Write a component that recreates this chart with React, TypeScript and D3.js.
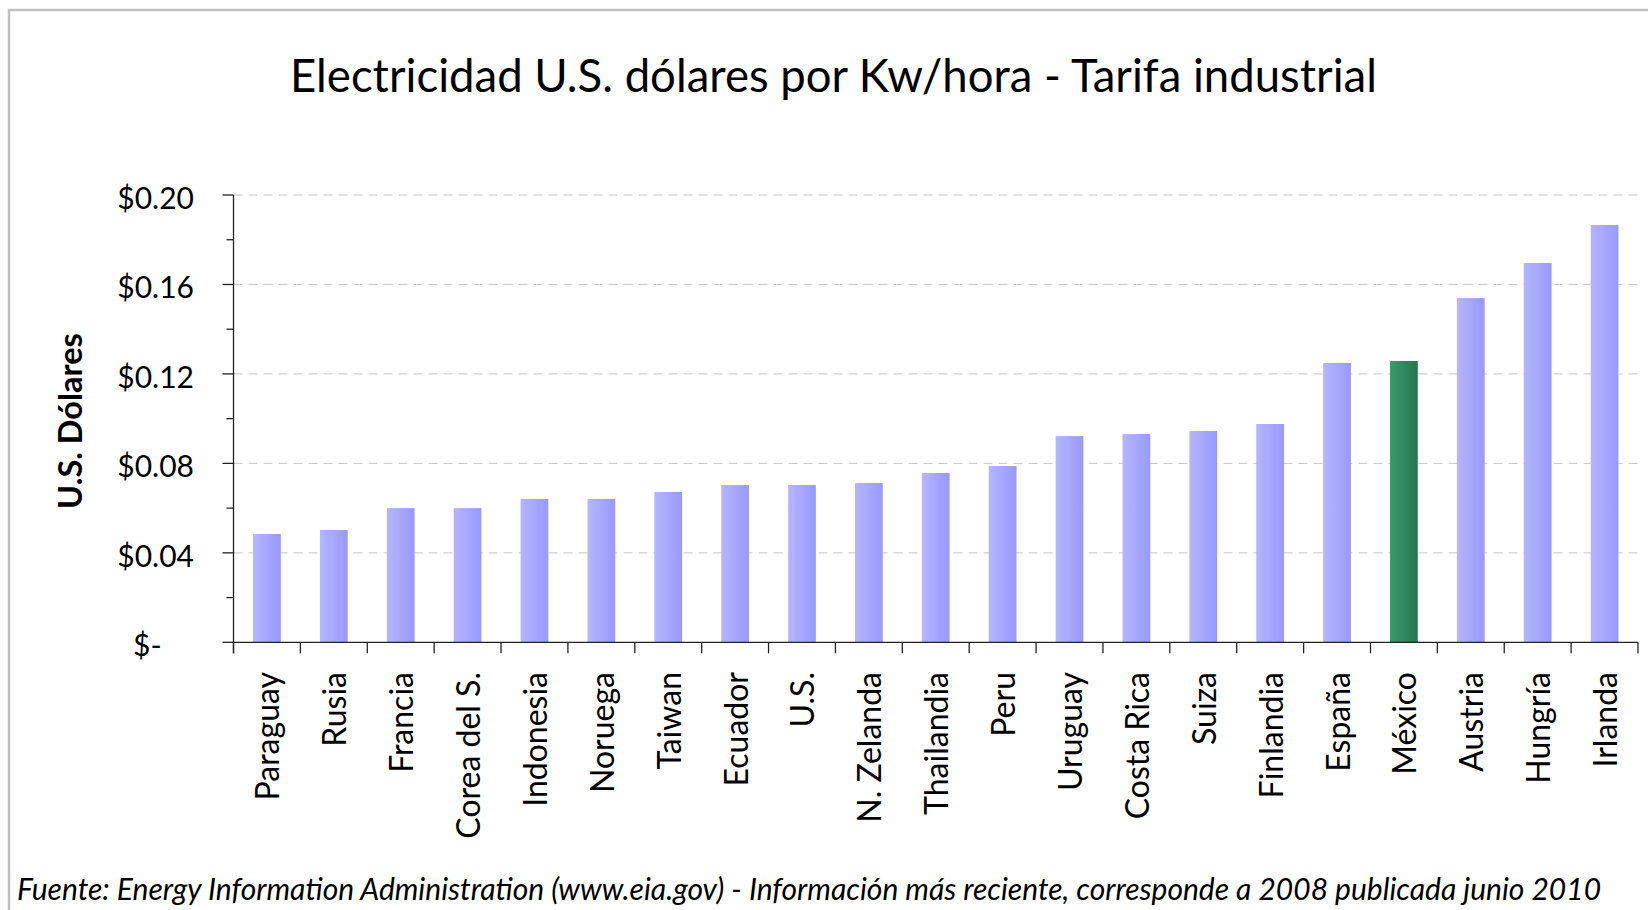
import React from "react";
import * as d3 from "d3";

const categories = [
  "Paraguay", "Rusia", "Francia", "Corea del S.", "Indonesia", "Noruega", "Taiwan",
  "Ecuador", "U.S.", "N. Zelanda", "Thailandia", "Peru", "Uruguay", "Costa Rica",
  "Suiza", "Finlandia", "España", "México", "Austria", "Hungría", "Irlanda",
];
const values = [
  0.0484, 0.0502, 0.0600, 0.0600, 0.0641, 0.0641, 0.0672,
  0.0703, 0.0703, 0.0712, 0.0757, 0.0788, 0.0922, 0.0931,
  0.0945, 0.0976, 0.1249, 0.1258, 0.1539, 0.1696, 0.1866,
];
const highlight = "México";
const majorTicks = [0, 0.04, 0.08, 0.12, 0.16, 0.2];
const minorTicks = [0.02, 0.06, 0.1, 0.14, 0.18];
const title = "Electricidad U.S. dólares por Kw/hora - Tarifa industrial";
const yTitle = "U.S. Dólares";
const footer =
  "Fuente: Energy Information Administration (www.eia.gov) - Información más reciente, corresponde a 2008 publicada junio 2010";

const W = 1648;
const H = 910;
const left = 233.5;
const right = 1638;
const top = 195;
const bottom = 642.3;
const FONT = "Lato, 'Open Sans', sans-serif";

function fmt(v: number) {
  return v === 0 ? "$-" : "$" + v.toFixed(2);
}

export default function App() {
  const x = d3
    .scaleBand<string>()
    .domain(categories)
    .range([left, right])
    .paddingInner(0.585)
    .paddingOuter(0.2925);
  const y = d3.scaleLinear().domain([0, 0.2]).range([bottom, top]);
  const step = (right - left) / categories.length;
  const boundaries = d3.range(categories.length + 1).map((i) => left + i * step);

  return (
    <svg
      width={W}
      height={H}
      style={{ position: "absolute", left: 0, top: 0, display: "block", background: "#fff" }}
      fontFamily={FONT}
    >
      <defs>
        <linearGradient id="gBlue" x1="0" x2="1" y1="0" y2="0">
          <stop offset="0" stopColor="#b5b5ff" />
          <stop offset="1" stopColor="#9999fd" />
        </linearGradient>
        <linearGradient id="gGreen" x1="0" x2="1" y1="0" y2="0">
          <stop offset="0" stopColor="#359b6a" />
          <stop offset="1" stopColor="#2a7652" />
        </linearGradient>
      </defs>
      <rect x={0} y={0} width={W} height={H} fill="#fff" />
      <path d={`M9,${H + 5} L9,10 L${W + 5},10`} fill="none" stroke="#c0c0c0" strokeWidth={2.5} />

      <text x={833.5} y={92} textAnchor="middle" fontSize={45.5} fill="#000">
        {title}
      </text>

      {majorTicks
        .filter((t) => t > 0)
        .map((t) => (
          <line
            key={"g" + t}
            x1={left}
            x2={right}
            y1={y(t)}
            y2={y(t)}
            stroke="#c6c6c6"
            strokeWidth={1}
            strokeDasharray="9 6"
          />
        ))}

      {categories.map((c, i) => (
        <rect
          key={c}
          x={x(c)}
          y={y(values[i])}
          width={x.bandwidth()}
          height={bottom - y(values[i])}
          fill={c === highlight ? "url(#gGreen)" : "url(#gBlue)"}
        />
      ))}

      <line x1={left} x2={left} y1={top} y2={bottom + 11} stroke="#222" strokeWidth={1.3} />
      {majorTicks.map((t) => (
        <line key={"mt" + t} x1={left - 11} x2={left} y1={y(t)} y2={y(t)} stroke="#222" strokeWidth={1.3} />
      ))}
      {minorTicks.map((t) => (
        <line key={"nt" + t} x1={left - 7} x2={left} y1={y(t)} y2={y(t)} stroke="#222" strokeWidth={1.3} />
      ))}
      {majorTicks.map((t) =>
        t === 0 ? (
          <text key={"l" + t} x={133} y={y(t) + 2} dominantBaseline="central" fontSize={30} fill="#000">
            {fmt(t)}
          </text>
        ) : (
          <text key={"l" + t} x={194} y={y(t) + 2} textAnchor="end" dominantBaseline="central" fontSize={30} fill="#000">
            {fmt(t)}
          </text>
        )
      )}
      <text
        transform={`translate(69,421) rotate(-90)`}
        textAnchor="middle"
        dominantBaseline="central"
        fontSize={32.5}
        fontWeight="bold"
        fill="#000"
      >
        {yTitle}
      </text>

      <line x1={left} x2={right} y1={bottom} y2={bottom} stroke="#222" strokeWidth={1.3} />
      {boundaries.map((b, i) => (
        <line key={"xt" + i} x1={b} x2={b} y1={bottom} y2={bottom + 11} stroke="#222" strokeWidth={1.3} />
      ))}
      {categories.map((c) => (
        <text
          key={"cl" + c}
          transform={`translate(${(x(c) as number) + x.bandwidth() / 2},672) rotate(-90)`}
          textAnchor="end"
          dominantBaseline="central"
          fontSize={32}
          fill="#000"
        >
          {c}
        </text>
      ))}

      <text x={17} y={900} fontSize={30} fontStyle="italic" fill="#000">
        {footer}
      </text>
    </svg>
  );
}
